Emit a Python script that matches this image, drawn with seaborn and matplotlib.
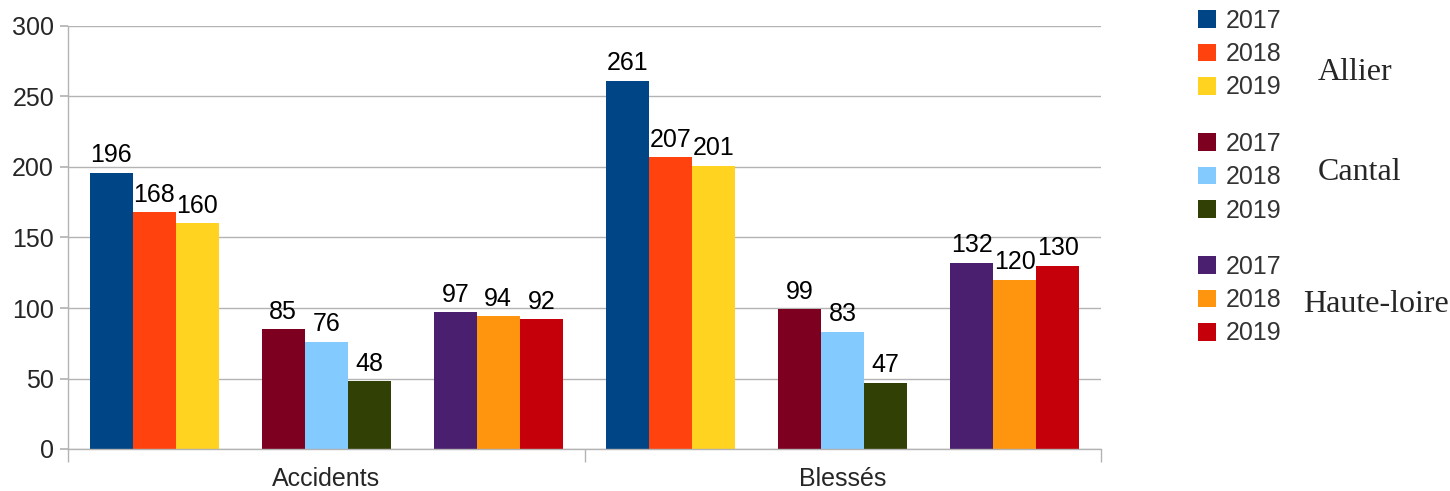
import pandas as pd
import matplotlib
matplotlib.use("Agg")
import matplotlib.pyplot as plt
from matplotlib.patches import Patch
import seaborn as sns

sns.set_theme(style="white")
plt.rcParams['font.family'] = ['Liberation Sans', 'DejaVu Sans']

# Data
categories = ["Accidents", "Blessés"]
departements = ["Allier", "Cantal", "Haute-loire"]
annees = ["2017", "2018", "2019"]
allier = {"Accidents": [196, 168, 160], "Blessés": [261, 207, 201]}
cantal = {"Accidents": [85, 76, 48], "Blessés": [99, 83, 47]}
haute_loire = {"Accidents": [97, 94, 92], "Blessés": [132, 120, 130]}

couleurs = {
    "Allier": ["#004586", "#ff420e", "#ffd320"],
    "Cantal": ["#7e0021", "#83caff", "#314004"],
    "Haute-loire": ["#4b1f6f", "#ff950e", "#c5000b"],
}

rows = []
for dep, vals in zip(departements, [allier, cantal, haute_loire]):
    for cat in categories:
        for an, v in zip(annees, vals[cat]):
            rows.append({"categorie": cat, "serie": f"{dep} {an}", "valeur": v})
df = pd.DataFrame(rows)

# hue order with empty spacer levels between departments
hue_order = []
palette = {}
for i, dep in enumerate(departements):
    for an, c in zip(annees, couleurs[dep]):
        hue_order.append(f"{dep} {an}")
        palette[f"{dep} {an}"] = c
    if i < len(departements) - 1:
        hue_order.append(f"_gap{i}")
        palette[f"_gap{i}"] = "white"

fig = plt.figure(figsize=(14.5, 4.91), dpi=100)
ax = fig.add_axes([68 / 1450, 1 - 449 / 491, (1101 - 68) / 1450, (449 - 26) / 491])

sns.barplot(data=df, x="categorie", y="valeur", hue="serie", hue_order=hue_order,
            order=categories, palette=palette, width=0.916, saturation=1,
            legend=False, ax=ax, edgecolor="none", linewidth=0)

for cont in ax.containers:
    ax.bar_label(cont, fmt="%d", padding=4, fontsize=18, color="black")

ax.set_ylim(0, 300)
ax.set_xlim(-0.5, 1.5)
ax.set_yticks(range(0, 301, 50))
ax.yaxis.grid(True, color="#b3b3b3", linewidth=1)
ax.set_axisbelow(True)
ax.set_xlabel("")
ax.set_ylabel("")
for s in ["top", "right"]:
    ax.spines[s].set_visible(False)
for s in ["left", "bottom"]:
    ax.spines[s].set_color("#b3b3b3")
    ax.spines[s].set_linewidth(1)

ax.tick_params(axis="y", left=True, length=6, color="#b3b3b3", labelsize=18, pad=4)
ax.tick_params(axis="x", which="major", length=0, labelsize=18, pad=13)
ax.set_xticks([-0.5, 0.5, 1.5], minor=True)
ax.tick_params(axis="x", which="minor", bottom=True, length=9, color="#b3b3b3")

# Legend: three groups with department names
leg_y = [1 - 54 / 491, 1 - 177 / 491, 1 - 300 / 491]
for dep, y in zip(departements, leg_y):
    handles = [Patch(facecolor=c, edgecolor="none") for c in couleurs[dep]]
    leg = fig.legend(handles, annees, loc="center left", bbox_to_anchor=(1198 / 1450, y),
                     frameon=False, fontsize=18, handlelength=0.7, handleheight=0.7,
                     handletextpad=0.4, labelspacing=0.38, borderpad=0, borderaxespad=0)
    for t in leg.get_texts():
        t.set_color("#333333")

fig.text(1318 / 1450, 1 - 73 / 491, "Allier", family="Liberation Serif", fontsize=23, va="center")
fig.text(1318 / 1450, 1 - 172 / 491, "Cantal", family="Liberation Serif", fontsize=23, va="center")
fig.text(1303 / 1450, 1 - 305 / 491, "Haute-loire", family="Liberation Serif", fontsize=23, va="center")

fig.savefig("out.png", dpi=100)
